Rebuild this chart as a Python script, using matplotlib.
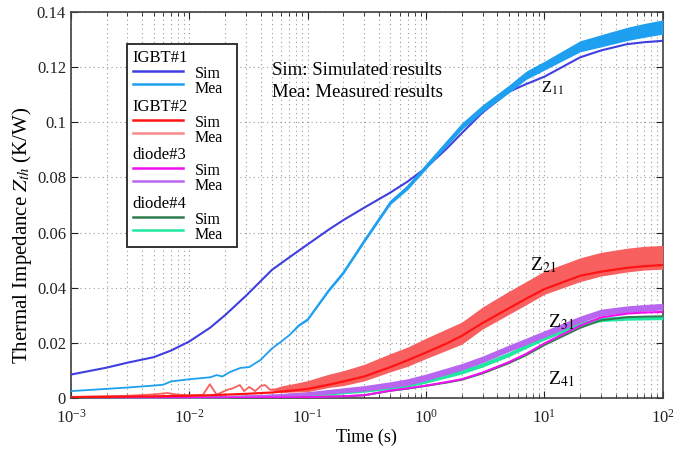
import numpy as np
import matplotlib
matplotlib.use('Agg')
import matplotlib.pyplot as plt
from matplotlib.ticker import FuncFormatter, LogLocator, NullFormatter
from matplotlib.patches import Rectangle

plt.rcParams['font.family'] = ['Liberation Serif', 'DejaVu Serif']
plt.rcParams['mathtext.fontset'] = 'stix'

# time grid for the simulated curves (s)
t_sim = [1e-3, 2e-3, 3e-3, 5e-3, 7e-3, 1e-2, 1.5e-2, 2e-2, 3e-2, 5e-2, 7e-2,
         0.1, 0.15, 0.2, 0.3, 0.5, 0.7, 1, 1.5, 2, 3, 5, 7, 10, 20, 30, 50, 70, 100]

z11_sim = [0.0085, 0.011, 0.0128, 0.0148, 0.0172, 0.0205, 0.0255, 0.030, 0.037, 0.0465, 0.051,
           0.0557, 0.061, 0.0645, 0.069, 0.0745, 0.0785, 0.0835, 0.0905, 0.096, 0.1035,
           0.111, 0.1138, 0.1165, 0.1235, 0.126, 0.1283, 0.129, 0.1295]
z21_sim = [0.0003, 0.0004, 0.0005, 0.0006, 0.0007, 0.0008, 0.001, 0.0012, 0.0015, 0.002, 0.0026,
           0.0033, 0.0048, 0.006, 0.0078, 0.0112, 0.0137, 0.0165, 0.0198, 0.0225, 0.0272,
           0.0325, 0.036, 0.0395, 0.0443, 0.0458, 0.0472, 0.0478, 0.0482]
z31_sim = [0.0, 0.0, 0.0, 0.0, 0.0, 0.0001, 0.0001, 0.0001, 0.0001, 0.0002, 0.0002,
           0.0003, 0.0005, 0.0006, 0.001, 0.0027, 0.0035, 0.0045, 0.0058, 0.0068, 0.0092,
           0.013, 0.016, 0.0198, 0.0262, 0.0292, 0.0306, 0.031, 0.0312]
z41_sim = [0.0, 0.0, 0.0, 0.0, 0.0, 0.0001, 0.0001, 0.0001, 0.0001, 0.0002, 0.0002,
           0.0003, 0.0005, 0.0006, 0.001, 0.0026, 0.0034, 0.0044, 0.0056, 0.0066, 0.0089,
           0.0126, 0.0155, 0.0192, 0.0254, 0.0282, 0.0293, 0.0295, 0.0296]

# measured Z11
t_m11 = [1e-3, 2e-3, 3e-3, 5e-3, 6e-3, 7e-3, 1e-2, 1.5e-2, 1.7e-2, 1.9e-2, 2.2e-2, 2.7e-2,
         3.2e-2, 4e-2, 5e-2, 6e-2, 7e-2, 0.085, 0.1, 0.15, 0.2, 0.3, 0.5, 0.7, 1, 2, 3, 5,
         7, 10, 20, 30, 50, 70, 100]
z11_mea = [0.0025, 0.0033, 0.0038, 0.0045, 0.0048, 0.006, 0.0068, 0.0075, 0.0083, 0.0078,
           0.0094, 0.0109, 0.0112, 0.0138, 0.018, 0.0205, 0.0228, 0.0265, 0.0285, 0.039,
           0.0455, 0.057, 0.071, 0.0765, 0.084, 0.0985, 0.105, 0.112, 0.117, 0.1205,
           0.1275, 0.1295, 0.132, 0.1333, 0.1345]
z11_hw = [0, 0, 0, 0, 0, 0, 0, 0, 0, 0, 0, 0, 0, 0, 0, 0, 0, 0.0003, 0.0004, 0.0005,
          0.0006, 0.0007, 0.0008, 0.0009, 0.001, 0.0012, 0.0013, 0.0014, 0.0015, 0.0016,
          0.002, 0.0022, 0.0024, 0.0025, 0.0026]

# measured Z21
t_m21 = [1e-3, 3e-3, 5e-3, 6.5e-3, 8e-3, 0.01, 0.013, 0.0149, 0.017, 0.021, 0.0233,
         0.0267, 0.029, 0.032, 0.036, 0.04, 0.0436, 0.048, 0.06, 0.08, 0.1, 0.15, 0.2,
         0.3, 0.5, 0.7, 1, 2, 3, 5, 7, 10, 20, 30, 50, 70, 100]
z21_mea = [0.0004, 0.0008, 0.0013, 0.0018, 0.0012, 0.001, 0.0011, 0.005, 0.0012, 0.003,
           0.0035, 0.0047, 0.0025, 0.004, 0.0025, 0.0043, 0.0047, 0.003, 0.0032, 0.0038,
           0.0043, 0.0062, 0.0072, 0.0092, 0.0128, 0.015, 0.018, 0.0235, 0.029, 0.0345,
           0.038, 0.0418, 0.0465, 0.0485, 0.05, 0.0507, 0.051]
z21_hw = [0, 0, 0, 0, 0, 0, 0, 0, 0, 0, 0, 0, 0, 0, 0, 0, 0, 0, 0.0012, 0.0016, 0.002,
          0.0024, 0.0027, 0.003, 0.0033, 0.0035, 0.0037, 0.004, 0.004, 0.0042, 0.0042,
          0.0042, 0.0043, 0.0043, 0.0043, 0.0043, 0.0043]

# measured Z31 / Z41
t_m3 = [1e-3, 1e-2, 2e-2, 5e-2, 0.1, 0.15, 0.2, 0.3, 0.5, 0.7, 1, 2, 3, 5, 7, 10, 20, 30, 50, 70, 100]
z31_mea = [0.0, 0.0002, 0.0004, 0.0009, 0.0016, 0.0023, 0.0028, 0.0035, 0.0048, 0.0058,
           0.0075, 0.0113, 0.014, 0.018, 0.0205, 0.0232, 0.0285, 0.031, 0.0322, 0.0327, 0.0331]
z31_hw = [0, 0.0002, 0.0003, 0.0005, 0.0007, 0.0008, 0.0009, 0.001, 0.0011, 0.0012, 0.0012,
          0.0012, 0.0012, 0.0012, 0.0012, 0.0012, 0.0012, 0.0012, 0.0012, 0.0012, 0.0012]
z41_mea = [0.0, 0.0002, 0.0003, 0.0007, 0.0012, 0.0016, 0.002, 0.0027, 0.0038, 0.0048,
           0.0062, 0.0095, 0.012, 0.0158, 0.0188, 0.0218, 0.0268, 0.0285, 0.029, 0.0291, 0.0292]
z41_hw = [0, 0.0001, 0.0002, 0.0003, 0.0004, 0.0005, 0.0005, 0.0006, 0.0007, 0.0008, 0.0008,
          0.0008, 0.0008, 0.0008, 0.0008, 0.0008, 0.0008, 0.0008, 0.0008, 0.0008, 0.0008]

groups = ['IGBT#1', 'IGBT#2', 'diode#3', 'diode#4']
sim_colors = ['#3f3fe0', '#ff1414', '#f010f0', '#2e7d4f']
mea_colors = ['#1e9ff0', '#f86060', '#b866f0', '#20e8a0']
mea_leg_colors = ['#1e9ff0', '#f88a8a', '#b866f0', '#20e8a0']

fig = plt.figure(figsize=(6.89, 4.49), dpi=100)
ax = fig.add_axes([0.103, 0.1136, 0.859, 0.86])

def band(t, m, hw, c, z):
    m = np.array(m)
    hw = np.array(hw)
    ax.fill_between(t, m - hw, m + hw, color=c, lw=0, zorder=z)
    ax.plot(t, m, color=c, lw=1.3, zorder=z)

# diode #4 / #3
band(t_m3, z41_mea, z41_hw, mea_colors[3], 3)
ax.plot(t_sim, z41_sim, color=sim_colors[3], lw=1.4, zorder=3.5)
band(t_m3, z31_mea, z31_hw, mea_colors[2], 4)
ax.plot(t_sim, z31_sim, color=sim_colors[2], lw=1.5, zorder=4.5)
# IGBT #2
band(t_m21, z21_mea, z21_hw, mea_colors[1], 5)
ax.plot(t_sim, z21_sim, color=sim_colors[1], lw=1.6, zorder=5.5)
# IGBT #1
ax.plot(t_sim, z11_sim, color=sim_colors[0], lw=1.5, zorder=6)
band(t_m11, z11_mea, z11_hw, mea_colors[0], 6.5)

ax.set_xscale('log')
ax.set_xlim(1e-3, 100)
ax.set_ylim(0, 0.14)
ax.set_yticks(np.arange(0, 0.141, 0.02))
ax.yaxis.set_major_formatter(FuncFormatter(lambda v, p: '%g' % round(v, 3)))
ax.xaxis.set_minor_locator(LogLocator(base=10, subs=np.arange(2, 10), numticks=20))
ax.xaxis.set_minor_formatter(NullFormatter())
ax.tick_params(which='both', direction='in', top=True, right=True, labelsize=12,
               colors='#222222')
ax.tick_params(which='major', length=5, width=0.8)
ax.tick_params(which='minor', length=3, width=0.6)
ax.tick_params(axis='x', pad=8)
ax.grid(True, which='major', color='#9a9a9a', ls=(0, (1, 3)), lw=0.8)
ax.grid(True, which='minor', axis='x', color='#9a9a9a', ls=(0, (1, 3)), lw=0.8)
ax.set_axisbelow(True)
for s in ax.spines.values():
    s.set_color('#404040')
    s.set_linewidth(1.2)

ax.set_xlabel('Time (s)', fontsize=13, labelpad=1)
ax.set_ylabel('Thermal Impedance $Z_{th}$ (K/W)', fontsize=15)
ax.yaxis.set_label_coords(-0.062, 0.422)

# curve labels
ax.text(9.3, 0.1124, r'Z$_{11}$', fontsize=12, ha='left', va='center', zorder=10)
ax.text(7.5, 0.048, r'Z$_{21}$', fontsize=14, ha='left', va='center', zorder=10)
ax.text(10.7, 0.0276, r'Z$_{31}$', fontsize=14, ha='left', va='center', zorder=10)
ax.text(10.7, 0.0069, r'Z$_{41}$', fontsize=14, ha='left', va='center', zorder=10)

ax.text(0.339, 0.847, 'Sim: Simulated results', transform=ax.transAxes,
        fontsize=13.5, va='center', ha='left')
ax.text(0.339, 0.791, 'Mea: Measured results', transform=ax.transAxes,
        fontsize=13.5, va='center', ha='left')

# legend drawn by hand (headers + Sim/Mea rows)
ax.add_patch(Rectangle((0.0946, 0.391), 0.1854, 0.526, transform=ax.transAxes,
                       facecolor='white', edgecolor='#333333', lw=1.4, zorder=20))
for g, name in enumerate(groups):
    hb = 0.870 - g * 0.126
    ax.text(0.103, hb, name, transform=ax.transAxes, fontsize=12, va='baseline',
            ha='left', zorder=21)
    ax.plot([0.1047, 0.189], [hb - 0.023, hb - 0.023], transform=ax.transAxes,
            color=sim_colors[g], lw=1.8, zorder=21)
    ax.plot([0.1047, 0.189], [hb - 0.057, hb - 0.057], transform=ax.transAxes,
            color=mea_leg_colors[g], lw=1.8, zorder=21)
    ax.text(0.2095, hb - 0.041, 'Sim', transform=ax.transAxes, fontsize=11.5,
            va='baseline', ha='left', zorder=21)
    ax.text(0.2095, hb - 0.080, 'Mea', transform=ax.transAxes, fontsize=11.5,
            va='baseline', ha='left', zorder=21)

fig.savefig('out.png', dpi=100)
